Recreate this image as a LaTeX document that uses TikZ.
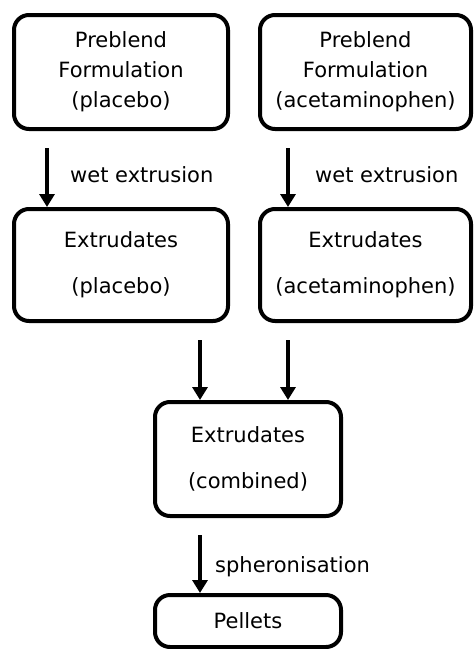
\documentclass[tikz,border=0pt]{standalone}
\usepackage{fontspec}
\setmainfont{DejaVu Sans}
\usepackage{tikz}
\usetikzlibrary{arrows.meta}

\begin{document}
\begin{tikzpicture}[x=1pt,y=-1pt,
    every node/.style={font=\fontsize{21}{30}\selectfont},
    stage/.style={draw=black,line width=4pt,rounded corners=15pt,align=center,inner sep=0pt},
    flow/.style={-{Triangle[length=13pt,width=15pt]},line width=4pt,shorten <=17pt}]
    \useasboundingbox (0,0) rectangle (474,649);

    \node[stage,minimum width=214pt,minimum height=114pt] (pbA) at (121,72) {Preblend\\Formulation\\(placebo)};
    \node[stage,minimum width=211pt,minimum height=114pt] (pbB) at (365.5,72) {Preblend\\Formulation\\(acetaminophen)};
    \node[stage,minimum width=214pt,minimum height=112pt] (exA) at (121,265) {Extrudates\\[16pt](placebo)};
    \node[stage,minimum width=211pt,minimum height=112pt] (exB) at (365.5,265) {Extrudates\\[16pt](acetaminophen)};
    \node[stage,minimum width=186pt,minimum height=114pt] (comb) at (248,459) {Extrudates\\[16pt](combined)};
    \node[stage,minimum width=186pt,minimum height=52pt] (pel) at (248,621) {Pellets};

    \node[anchor=base west,inner sep=0pt] (wetA) at (70,182) {wet extrusion};
    \node[anchor=base west,inner sep=0pt] (wetB) at (315,182) {wet extrusion};
    \node[anchor=base west,inner sep=0pt] (sph) at (215,572) {spheronisation};

    \draw[flow] ([xshift=-74pt]pbA.south) -- ([xshift=-74pt]exA.north);
    \draw[flow] ([xshift=-77.5pt]pbB.south) -- ([xshift=-77.5pt]exB.north);
    \draw[flow] ([xshift=79pt]exA.south) -- ([xshift=-48pt]comb.north);
    \draw[flow] ([xshift=-77.5pt]exB.south) -- ([xshift=40pt]comb.north);
    \draw[flow] ([xshift=-48pt]comb.south) -- ([xshift=-48pt]pel.north);
\end{tikzpicture}
\end{document}
